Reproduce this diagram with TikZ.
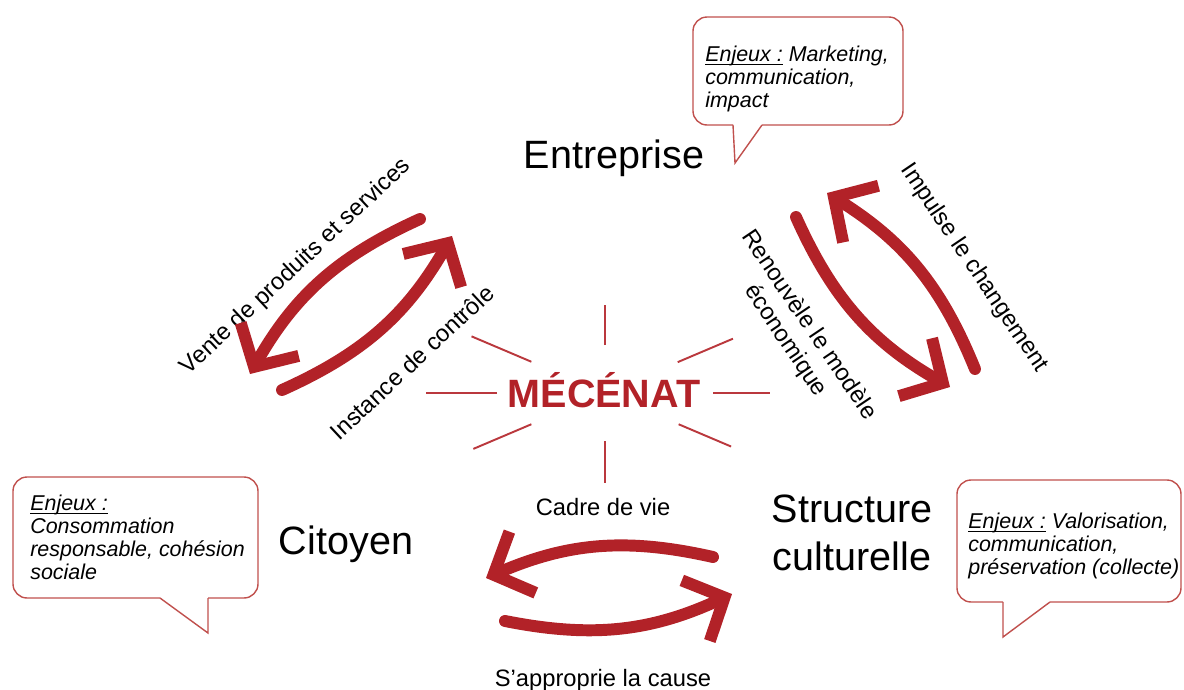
\documentclass[tikz,border=0pt]{standalone}
\usepackage{fontspec}
\setmainfont{Liberation Sans}
\usetikzlibrary{arrows.meta}
\definecolor{mecred}{RGB}{178,34,40}
\definecolor{boxred}{RGB}{192,80,77}
\newcommand{\enjeuline}[1]{\underline{\raisebox{0pt}[\height][0pt]{#1}}}
\begin{document}
\begin{tikzpicture}[x=0.02cm, y=0.02cm,
actor/.style={font=\fontsize{22.5}{27}\selectfont, inner sep=0pt, align=center},
flow/.style={font=\fontsize{13.5}{16}\selectfont, inner sep=0pt, align=center},
loop arrow/.style={mecred, line width=6.8pt, line cap=round, -{Straight Barb[length=18pt, width=38pt]}},
ray/.style={mecred!90, line width=1.1pt},
bubble/.style={draw=boxred, line width=0.8pt},
enjeux/.style={font=\fontsize{12.2}{13}\selectfont\itshape, inner sep=0pt, align=left, anchor=north west}]
\useasboundingbox (0,0) rectangle (1184,-690);
\begin{scope}
\node[actor, anchor=base] (entreprise) at (614,-168) {Entreprise};
\node[actor, anchor=base] (citoyen) at (346,-554) {Citoyen};
\node[actor] (structure) at (852,-533) {Structure\\culturelle};
\node[actor, font=\fontsize{22.5}{27}\selectfont\bfseries, text=mecred, anchor=base] (mecenat) at (604,-407) {MÉCÉNAT};
\coordinate (hub) at (605,-393);
\end{scope}
\begin{scope}
\node[flow, rotate=43] (vente) at (296,-267) {Vente de produits et services};
\node[flow, rotate=43] (instance) at (412,-362) {Instance de contrôle};
\node[flow, rotate=-56] (impulse) at (974,-268) {Impulse le changement};
\node[flow, rotate=-56] (renouvele) at (797,-333) {Renouvèle le modèle\\économique};
\node[flow, anchor=base] (cadre) at (603,-515) {Cadre de vie};
\node[flow, anchor=base] (cause) at (603,-686) {S’approprie la cause};
\end{scope}
% rays
\foreach \ang/\ri/\ro in {90/48/88, 270/48/90, 180/108/179, 0/108/165, 157/80/145, 23/79/139, 203/80/143, 337/80/137}
  \draw[ray] ([shift={(\ang:\ri)}]hub) -- ([shift={(\ang:\ro)}]hub);
% arrows
\coordinate (v1) at (420,-219); \coordinate (v2) at (250,-374);
\coordinate (i1) at (282,-390); \coordinate (i2) at (452,-236);
\coordinate (p1) at (975,-369); \coordinate (p2) at (827,-193);
\coordinate (r1) at (796,-217); \coordinate (r2) at (950,-387);
\coordinate (c1) at (713,-557); \coordinate (c2) at (486,-578);
\coordinate (s1) at (505,-621); \coordinate (s2) at (732,-594);
\draw[loop arrow] (v1) to[bend right=18] (v2);
\draw[loop arrow] (i1) to[bend right=18] (i2);
\draw[loop arrow] (p1) to[bend right=18] (p2);
\draw[loop arrow] (r1) to[bend right=18] (r2);
\draw[loop arrow] (c1) to[bend right=18] (c2);
\draw[loop arrow] (s1) to[bend right=18] (s2);
% callouts
\node[enjeux] (enjeux ent) at (705,-46) {\enjeuline{Enjeux :} Marketing,\\communication,\\impact};
\draw[bubble, rounded corners=8pt] (733,-125) -| (693,-17) -| (903,-125) -- (762,-125);
\draw[bubble] (733,-125) -- (735,-163) -- (762,-125);
\node[enjeux] (enjeux cit) at (30,-495) {\enjeuline{Enjeux :}\\Consommation\\responsable, cohésion\\sociale};
\draw[bubble, rounded corners=8pt] (160,-598) -| (13,-477) -| (258,-598) -- (208,-598);
\draw[bubble] (160,-598) -- (208,-633) -- (208,-598);
\node[enjeux] (enjeux cult) at (968,-513) {\enjeuline{Enjeux :} Valorisation,\\communication,\\préservation (collecte)};
\draw[bubble, rounded corners=8pt] (1003,-602) -| (957,-480) -| (1181,-602) -- (1050,-602);
\draw[bubble] (1003,-602) -- (1003,-637) -- (1050,-602);
\end{tikzpicture}
\end{document}
